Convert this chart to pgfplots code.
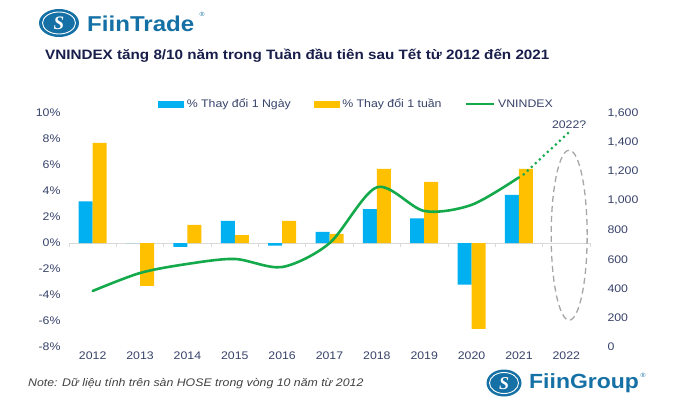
\documentclass[border=0pt]{standalone}
\usepackage{fontspec}
\setmainfont{Liberation Sans}[FakeStretch=1.12]
\newfontfamily\logoserif{Liberation Serif}
\usepackage{pgfplots}
\pgfplotsset{compat=1.18}
\definecolor{cblue}{RGB}{0,176,240}
\definecolor{cyellow}{RGB}{255,192,0}
\definecolor{cgreen}{RGB}{20,170,75}
\definecolor{ctick}{RGB}{55,66,105}
\definecolor{ctitle}{RGB}{25,30,75}
\definecolor{clogo}{RGB}{20,112,165}
\definecolor{cnote}{RGB}{64,64,64}
\definecolor{czero}{RGB}{217,217,217}
\definecolor{cell}{RGB}{166,166,166}
\begin{document}
\begin{tikzpicture}[x=1pt,y=1pt]
\path[use as bounding box] (0,0) rectangle (680,408);
% FiinTrade logo
\fill[clogo] (59,385) ellipse [x radius=20, y radius=14];
\draw[white, line width=0.9] (59,385) ellipse [x radius=16.5, y radius=11];
\node[white, font=\logoserif\bfseries\itshape\fontsize{19}{19}\selectfont] at (59,384.5) {S};
\node[anchor=west, clogo, font=\bfseries\fontsize{21.5}{21.5}\selectfont, inner sep=0] at (87,384) {FiinTrade};
\node[clogo, font=\fontsize{6}{6}\selectfont, inner sep=0] at (202,394) {®};
% title
\node[anchor=west, ctitle, font=\bfseries\fontsize{13.6}{15}\selectfont, inner sep=0] at (45,352.5) {VNINDEX tăng 8/10 năm trong Tuần đầu tiên sau Tết từ 2012 đến 2021};
% note
\node[anchor=west, cnote, font=\itshape\fontsize{11}{13}\selectfont, inner sep=0] at (28,24) {Note: Dữ liệu tính trên sàn HOSE trong vòng 10 năm từ 2012};
% FiinGroup logo
\fill[clogo] (504,25) ellipse [x radius=17.5, y radius=13.5];
\draw[white, line width=0.9] (504,25) ellipse [x radius=14.5, y radius=10.5];
\node[white, font=\logoserif\bfseries\itshape\fontsize{18}{18}\selectfont] at (504,24.5) {S};
\node[anchor=west, clogo, font=\bfseries\fontsize{20.5}{20.5}\selectfont, inner sep=0] at (529,24.5) {FiinGroup};
\node[clogo, font=\fontsize{6}{6}\selectfont, inner sep=0] at (643,33) {®};

\begin{axis}[
  at={(69pt,61pt)}, anchor=south west, scale only axis,
  width=521pt, height=234pt,
  xmin=-0.5, xmax=10.5, ymin=-8, ymax=10,
  axis x line*=bottom, axis y line*=left,
  axis line style={draw=none}, tick style={draw=none},
  xtick={0,...,10},
  xticklabels={2012,2013,2014,2015,2016,2017,2018,2019,2020,2021,2022},
  ytick={-8,-6,...,10},
  yticklabels={-8\%,-6\%,-4\%,-2\%,0\%,2\%,4\%,6\%,8\%,10\%},
  tick label style={font=\fontsize{11}{13}\selectfont, text=ctick},
  yticklabel style={xshift=-5pt},
  xticklabel style={yshift=-1pt},
  clip=false,
  legend style={at={(0.553,1.038)}, anchor=center, draw=none, fill=none,
    font=\fontsize{11}{13}\selectfont, text=ctick, legend columns=3,
    /tikz/every even column/.append style={column sep=20pt}, inner sep=0pt,
    nodes={inner xsep=3pt}},
  legend cell align=left,
]
\draw[czero, line width=0.8pt] (axis cs:-0.5,0) -- (axis cs:10.5,0);
\pgfplotsinvokeforeach{-0.5,0.5,1.5,2.5,3.5,4.5,5.5,6.5,7.5,8.5,9.5,10.5}{
  \draw[czero, line width=0.8pt] (axis cs:#1,0) -- ++(0pt,-4pt);
}
\addplot[ybar, bar width=14pt, bar shift=-7pt, fill=cblue, draw=none, forget plot]
  coordinates {(0,3.2)(1,0)(2,-0.3)(3,1.7)(4,-0.2)(5,0.85)(6,2.6)(7,1.9)(8,-3.2)(9,3.7)};
\addplot[ybar, bar width=14pt, bar shift=7pt, fill=cyellow, draw=none, forget plot]
  coordinates {(0,7.7)(1,-3.3)(2,1.4)(3,0.6)(4,1.7)(5,0.7)(6,5.7)(7,4.7)(8,-6.6)(9,5.7)};
\addlegendimage{legend image code/.code={\fill[cblue] (0pt,-2.8pt) rectangle (25pt,2.8pt);}}
\addlegendentry{\% Thay đổi 1 Ngày}
\addlegendimage{legend image code/.code={\fill[cyellow] (0pt,-2.8pt) rectangle (25pt,2.8pt);}}
\addlegendentry{\% Thay đổi 1 tuần}
\addlegendimage{legend image code/.code={\draw[cgreen, line width=2.5pt] (0pt,0pt) -- (28pt,0pt);}}
\addlegendentry{VNINDEX}
\draw[cell, line width=1.3pt, dash pattern=on 6pt off 4pt] (axis cs:10.06,0.6) ellipse [x radius=18pt, y radius=85pt];
\end{axis}

\begin{axis}[
  at={(69pt,61pt)}, anchor=south west, scale only axis,
  width=521pt, height=234pt,
  xmin=-0.5, xmax=10.5, ymin=0, ymax=1600,
  axis y line*=right, axis x line=none,
  axis line style={draw=none}, tick style={draw=none},
  ytick={0,200,...,1600},
  yticklabels={0,200,400,600,800,{1,000},{1,200},{1,400},{1,600}},
  tick label style={font=\fontsize{11}{13}\selectfont, text=ctick},
  yticklabel style={xshift=14pt},
  clip=false,
]
\addplot[cgreen, line width=2.6pt, smooth, line cap=round]
  coordinates {(0,383)(1,506)(2,568)(3,602)(4,547)(5,710)(6,1092)(7,930)(8,972)(9,1160)};
\addplot[cgreen, line width=3pt, line cap=round, dash pattern=on 0pt off 5.5pt]
  coordinates {(9.1,1180)(10.06,1470)};
\node[ctick, font=\fontsize{11}{13}\selectfont] at (axis cs:10.06,1518) {2022?};
\end{axis}
\end{tikzpicture}
\end{document}
